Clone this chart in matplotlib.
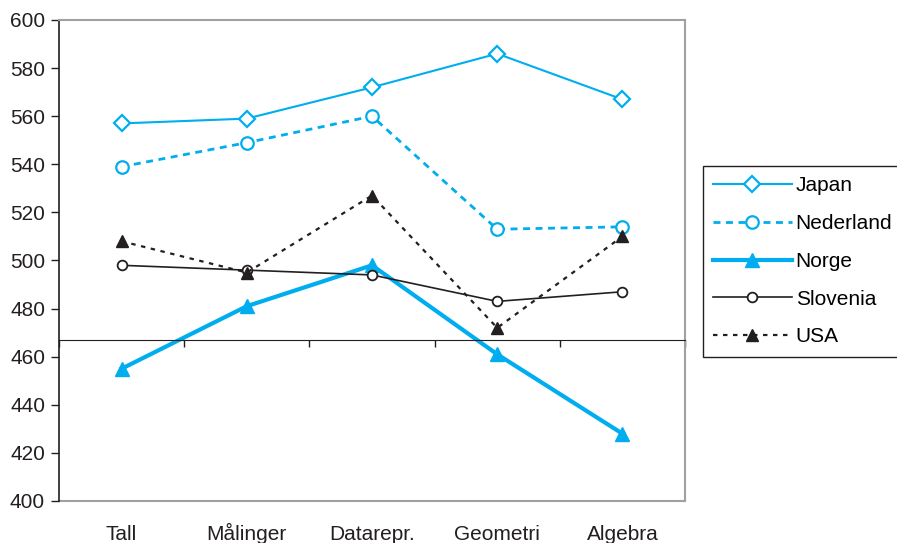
import numpy as np
import matplotlib.pyplot as plt

plt.rcParams['font.family'] = ['Liberation Sans', 'DejaVu Sans']

categories = ['Tall', 'Målinger', 'Datarepr.', 'Geometri', 'Algebra']
japan = [557, 559, 572, 586, 567]
nederland = [539, 549, 560, 513, 514]
norge = [455, 481, 498, 461, 428]
slovenia = [498, 496, 494, 483, 487]
usa = [508, 495, 527, 472, 510]
cross_at = 467  # where the category axis crosses the value axis

blue = '#00aeef'
dark = '#231f20'

fig = plt.figure(figsize=(8.97, 5.43), dpi=100)
ax = fig.add_axes([59 / 897, 42 / 543, 626 / 897, 481 / 543])

x = np.arange(len(categories))
ax.plot(x, japan, color=blue, lw=1.5, marker='D', ms=8, mfc='white',
        mec=blue, mew=1.6, label='Japan')
ax.plot(x, nederland, color=blue, lw=2, ls=(0, (2.5, 2)), marker='o', ms=9,
        mfc='white', mec=blue, mew=1.6, label='Nederland')
ax.plot(x, norge, color=blue, lw=3, marker='^', ms=10, mfc=blue, mec=blue,
        label='Norge')
ax.plot(x, slovenia, color=dark, lw=1.2, marker='o', ms=7, mfc='white',
        mec=dark, mew=1.3, label='Slovenia')
ax.plot(x, usa, color=dark, lw=1.6, ls=(0, (2, 2.5)), marker='^', ms=9,
        mfc=dark, mec=dark, label='USA')

ax.set_xlim(-0.5, len(categories) - 0.5)
ax.set_ylim(400, 600)
ax.set_yticks(np.arange(400, 601, 20))
ax.tick_params(axis='y', direction='out', length=6, width=1, labelsize=15,
               colors=dark, pad=4)

# category axis crossing at cross_at, ticks between categories
ax.spines['bottom'].set_position(('data', cross_at))
ax.spines['bottom'].set_color(dark)
ax.set_xticks(np.arange(-0.5, len(categories), 1.0))
ax.tick_params(axis='x', direction='out', length=5, width=1, labelbottom=False,
               colors=dark)
ax.spines['left'].set_color(dark)
ax.spines['left'].set_linewidth(1.2)
for side in ['top', 'right']:
    ax.spines[side].set_color('#a0a0a0')
    ax.spines[side].set_linewidth(1.5)
ax.axhline(400, color='#a0a0a0', lw=1.5, clip_on=False, zorder=0)

# category labels below the plot, sharing one baseline
for xi, name in zip(x, categories):
    ax.text(xi, -0.082, name, transform=ax.get_xaxis_transform(),
            ha='center', va='baseline', fontsize=15, color=dark)

fig.legend(loc='upper left', bbox_to_anchor=(703 / 897, 1 - 166 / 543),
           fontsize=15, frameon=True, fancybox=False, edgecolor=dark,
           framealpha=1, handlelength=3.75, labelspacing=0.9,
           handletextpad=0.2, borderpad=0.5, borderaxespad=0)

fig.savefig('out.png', dpi=100)
